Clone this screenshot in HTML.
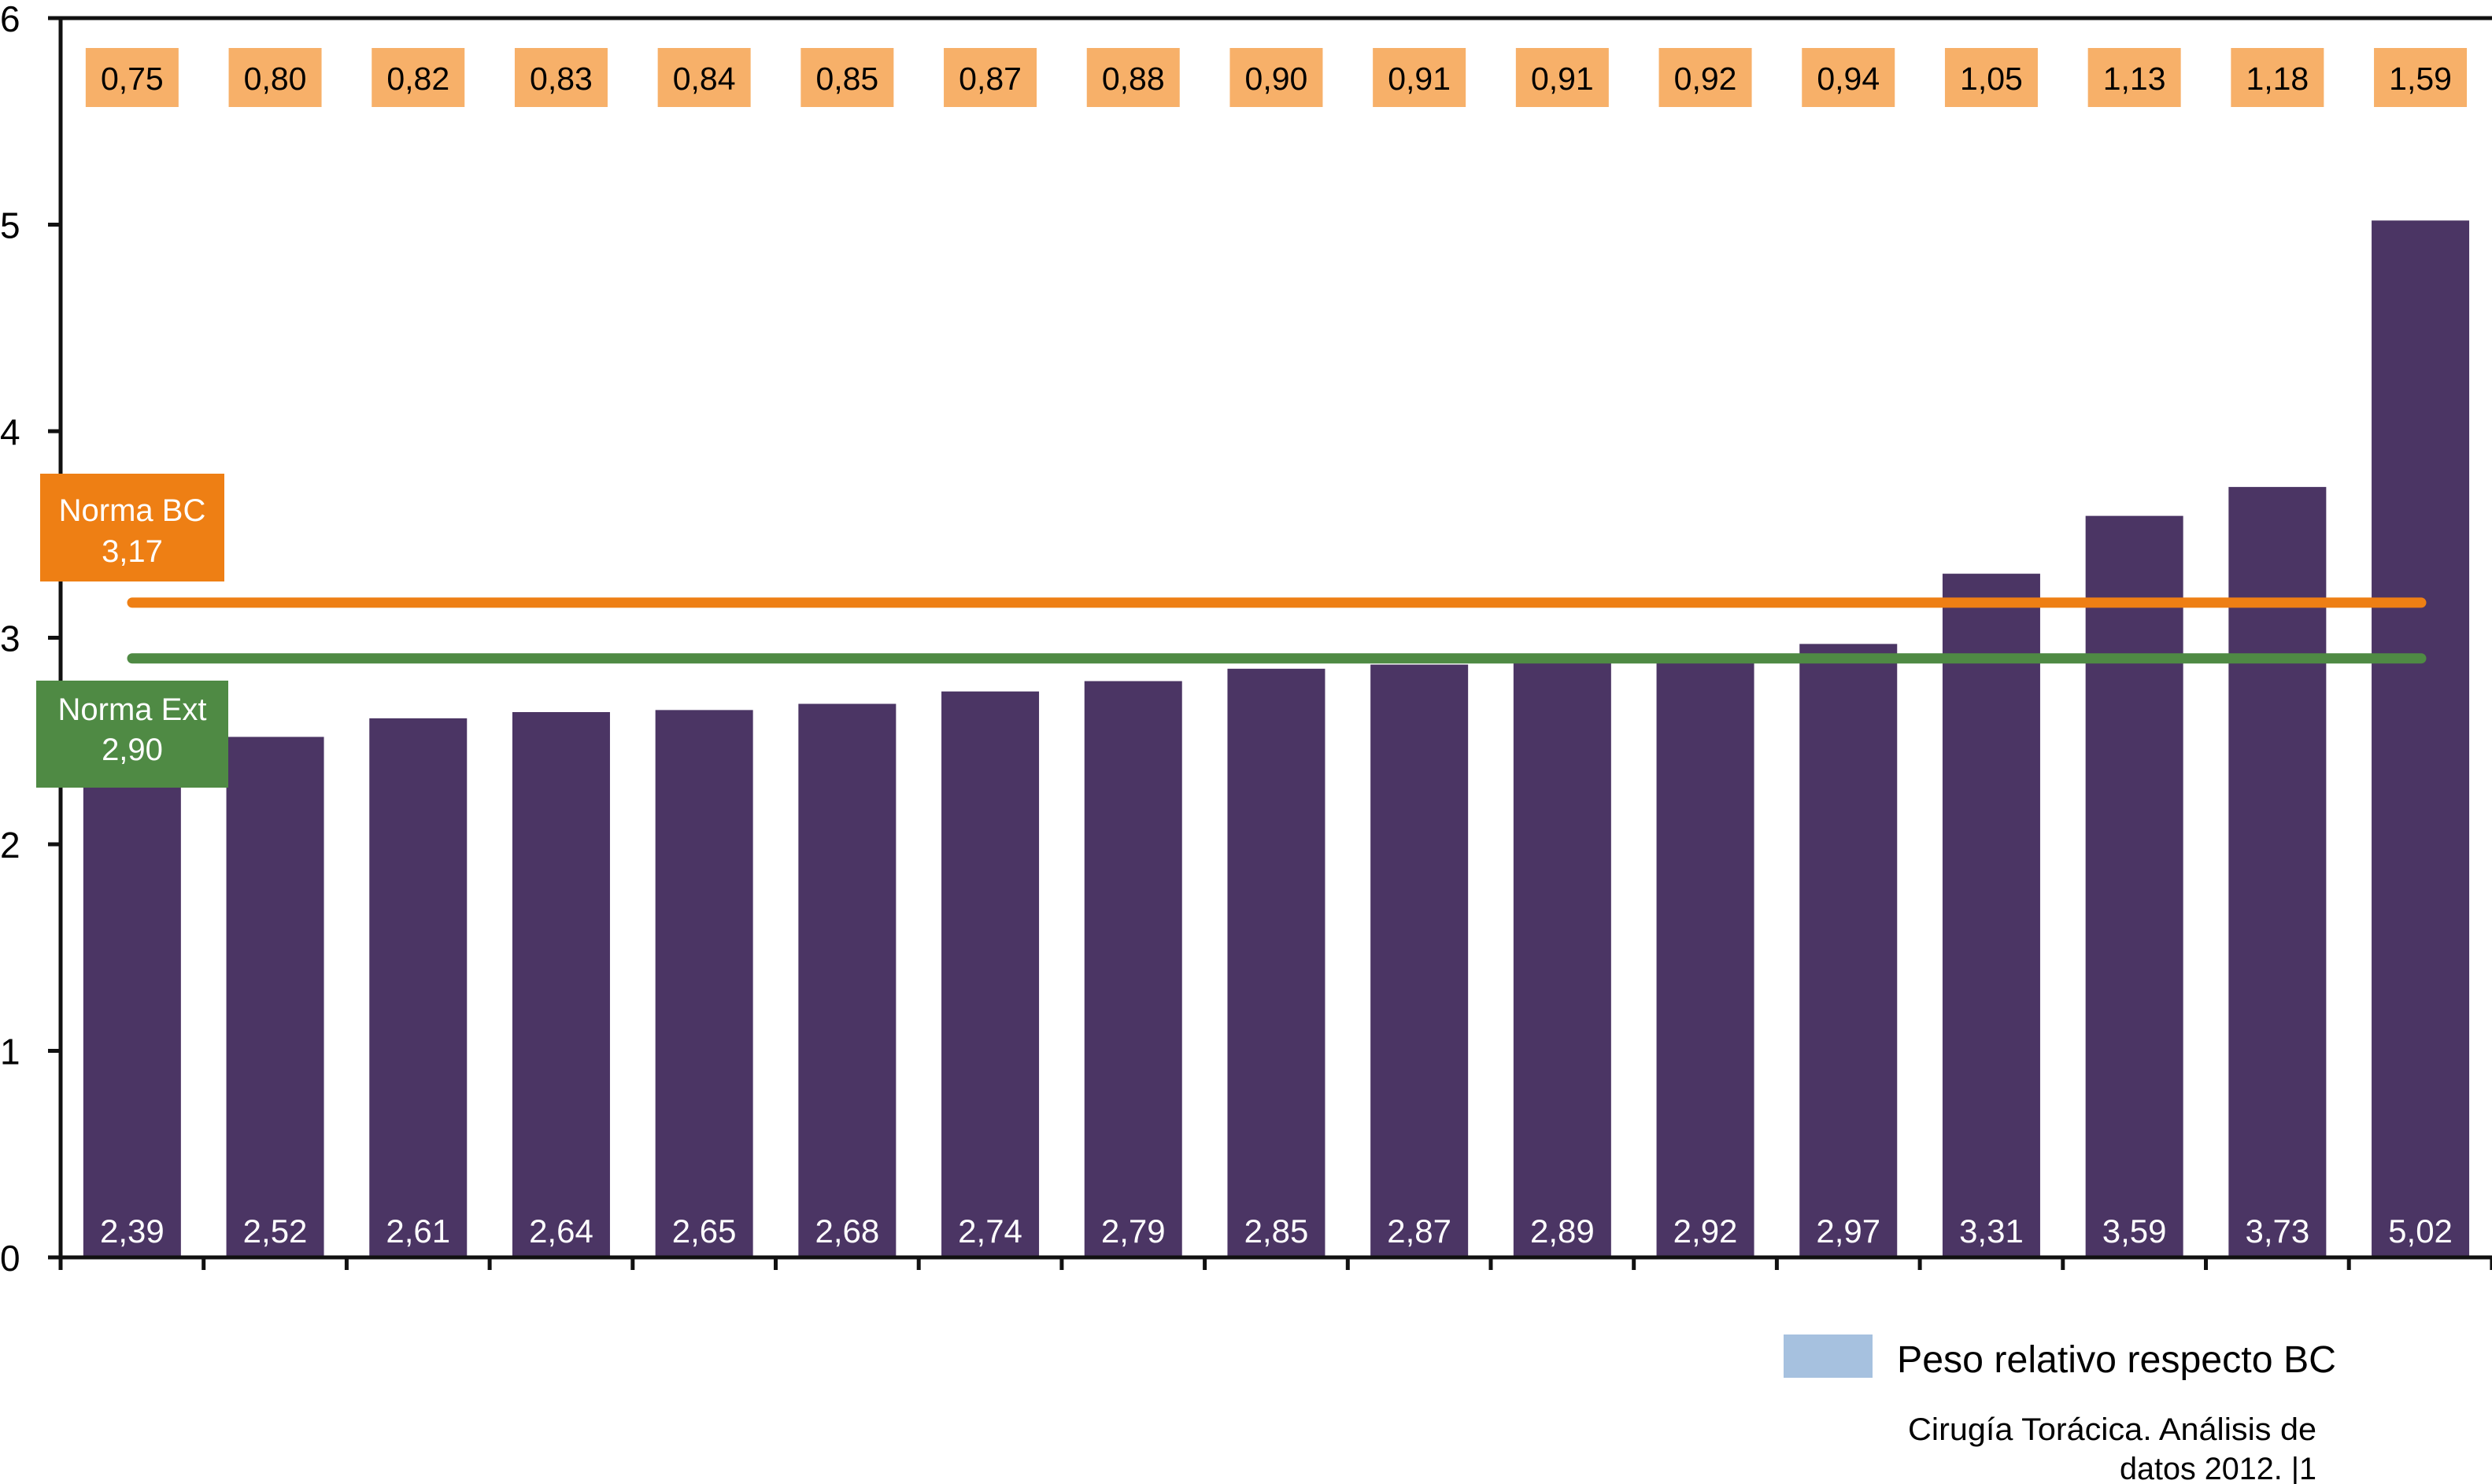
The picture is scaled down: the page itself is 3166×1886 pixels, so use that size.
<!DOCTYPE html>
<html><head><meta charset="utf-8"><style>
html,body{margin:0;padding:0;background:#fff;}
svg{display:block;font-family:"Liberation Sans",Arial,sans-serif;}
</style></head><body>
<svg id="chart" width="3166" height="1886" viewBox="0 0 3166 1886" xmlns="http://www.w3.org/2000/svg">
<g id="grid"></g>
<g id="bars"></g>
<g id="tops"></g>
<g id="refs"></g>
<g id="axes"></g>
<g>
<rect x="51" y="602" width="234" height="137" fill="#ee7f14"/>
<text x="168" y="662" font-size="40" fill="#fff" text-anchor="middle">Norma BC</text>
<text x="168" y="714" font-size="40" fill="#fff" text-anchor="middle">3,17</text>
</g>
<g>
<rect x="46" y="865" width="244" height="136" fill="#4f8a44"/>
<text x="168" y="915" font-size="40" fill="#fff" text-anchor="middle">Norma Ext</text>
<text x="168" y="966" font-size="40" fill="#fff" text-anchor="middle">2,90</text>
</g>
<g>
<rect x="2266" y="1696" width="113" height="55" fill="#a6c1df"/>
<text x="2410" y="1744" font-size="48" fill="#000" textLength="558" lengthAdjust="spacingAndGlyphs">Peso relativo respecto BC</text>
</g>
<g>
<text x="2943" y="1830" font-size="40" fill="#000" text-anchor="end" textLength="519" lengthAdjust="spacingAndGlyphs">Cirugía Torácica. Análisis de</text>
<text x="2943" y="1880" font-size="40" fill="#000" text-anchor="end" textLength="250" lengthAdjust="spacingAndGlyphs">datos 2012. |1</text>
</g>
</svg>
<script>
const values = [2.39,2.52,2.61,2.64,2.65,2.68,2.74,2.79,2.85,2.87,2.89,2.92,2.97,3.31,3.59,3.73,5.02];
const valueLabels = ["2,39","2,52","2,61","2,64","2,65","2,68","2,74","2,79","2,85","2,87","2,89","2,92","2,97","3,31","3,59","3,73","5,02"];
const weightLabels = ["0,75","0,80","0,82","0,83","0,84","0,85","0,87","0,88","0,90","0,91","0,91","0,92","0,94","1,05","1,13","1,18","1,59"];
const yTicks = [0,1,2,3,4,5,6];
const normaBC = 3.17;
const normaExt = 2.90;

const NS="http://www.w3.org/2000/svg";
const x0=77, step=181.7, y0=1598, unit=262.5;
const yScale=v=>y0-v*unit;
const xCenter=i=>x0+(i+0.5)*step;
function mk(tag,attrs,parent,text){const e=document.createElementNS(NS,tag);for(const k in attrs)e.setAttribute(k,attrs[k]);if(text!==undefined)e.textContent=text;parent.appendChild(e);return e;}

const bars=document.getElementById('bars');
values.forEach((v,i)=>{
  const r=mk('rect',{x:xCenter(i)-62,y:yScale(v),width:124,height:y0-yScale(v),fill:'#4b3564'},bars);
  
  
  const t=mk('text',{x:xCenter(i),y:1579,'font-size':42,fill:'#fff','text-anchor':'middle'},bars,valueLabels[i]);
  
  
});
const tops=document.getElementById('tops');
weightLabels.forEach((l,i)=>{
  const r=mk('rect',{x:xCenter(i)-59,y:61,width:118,height:75,fill:'#f7b069'},tops);
  
  
  const t=mk('text',{x:xCenter(i),y:114,'font-size':41,fill:'#000','text-anchor':'middle'},tops,l);
  
  
});
const refs=document.getElementById('refs');
const l1=mk('line',{x1:168,x2:3076,y1:yScale(normaBC),y2:yScale(normaBC),stroke:'#ee7f14','stroke-width':13,'stroke-linecap':'round'},refs);


const l2=mk('line',{x1:168,x2:3076,y1:yScale(normaExt),y2:yScale(normaExt),stroke:'#4f8a44','stroke-width':13,'stroke-linecap':'round'},refs);



const axes=document.getElementById('axes');
const ya=mk('line',{x1:x0,x2:x0,y1:yScale(6),y2:y0+16,stroke:'#111','stroke-width':5},axes);


const xa=mk('line',{x1:61,x2:3166,y1:y0,y2:y0,stroke:'#111','stroke-width':5},axes);


const topBorder=mk('line',{x1:61,x2:3166,y1:yScale(6),y2:yScale(6),stroke:'#111','stroke-width':5},axes);


yTicks.forEach(v=>{
  const tk=mk('line',{x1:61,x2:x0,y1:yScale(v),y2:yScale(v),stroke:'#111','stroke-width':5},axes);
  
  
  const t=mk('text',{x:0,y:yScale(v)+17,'font-size':46,fill:'#000'},axes,String(v));
  
  
});
for(let i=1;i<=values.length;i++){
  const tk=mk('line',{x1:x0+i*step,x2:x0+i*step,y1:y0,y2:y0+16,stroke:'#111','stroke-width':5},axes);
  
  
}
</script>
</body></html>
